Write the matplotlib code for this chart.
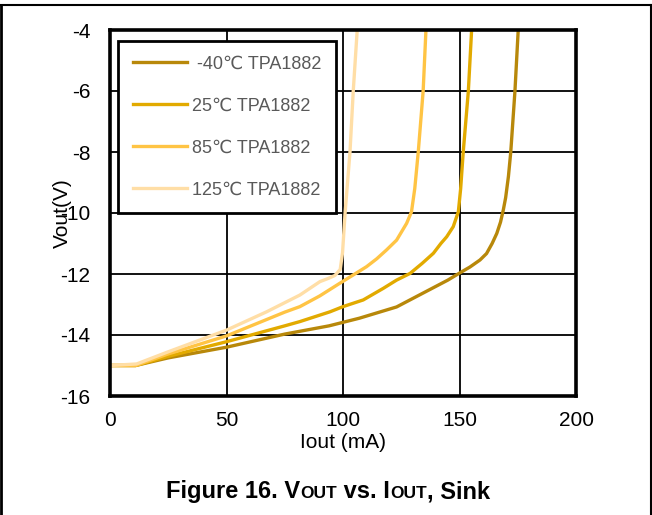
import matplotlib
matplotlib.use("Agg")
import matplotlib.pyplot as plt
from matplotlib.lines import Line2D

# Sink current (mA) vs output voltage (V) at four temperatures
i_m40 = [0, 11, 25, 50, 75, 94, 107, 123, 137, 145, 150, 154.5, 158.8, 161.6, 164, 166, 167.6,
         168.8, 169.8, 171, 172, 173.8, 175.2]
v_m40 = [-15, -15, -14.75, -14.4, -13.97, -13.7, -13.45, -13.08, -12.52, -12.2, -11.97, -11.77,
         -11.54, -11.33, -11.0, -10.67, -10.3, -9.9, -9.5, -8.8, -8.0, -6.0, -4.0]

i_25 = [0, 11, 25, 50, 75, 81.5, 94.4, 100, 108.7, 117.3, 123, 128.8, 134, 138.8, 142, 144.5,
        147.3, 149.5, 150.5, 151.6, 153.8, 155.2]
v_25 = [-15, -15, -14.7, -14.22, -13.7, -13.56, -13.24, -13.07, -12.85, -12.47, -12.2, -11.98,
        -11.65, -11.32, -11.0, -10.78, -10.45, -9.96, -9.2, -8.0, -6.0, -4.0]

i_85 = [0, 11, 25, 50, 75, 81.5, 90, 98.7, 104, 110.1, 114.5, 118.7, 123, 127.3, 129.4, 130.8,
        132.3, 134.4, 135.6]
v_85 = [-15, -15, -14.62, -14.03, -13.25, -13.07, -12.72, -12.3, -12.05, -11.76, -11.5, -11.21,
        -10.89, -10.34, -9.96, -9.2, -8.0, -6.0, -4.0]

i_125 = [0, 11.4, 25, 50, 67.2, 81.5, 90.1, 93.5, 96.5, 98.8, 99.8, 100.9, 103, 104.4, 106.1]
v_125 = [-15, -14.95, -14.55, -13.84, -13.24, -12.69, -12.25, -12.15, -12.05, -11.85, -11.3,
         -10.0, -8.0, -6.0, -4.0]

labels = [" -40\u2103 TPA1882", "25\u2103 TPA1882", "85\u2103 TPA1882", "125\u2103 TPA1882"]
colors = ["#B8880A", "#E2AA00", "#FFC444", "#FFDEA6"]

xticks = [0, 50, 100, 150, 200]
yticks = [-16, -14, -12, -10, -8, -6, -4]

plt.rcParams["font.family"] = ["Liberation Sans", "DejaVu Sans"]
plt.rcParams["axes.unicode_minus"] = False

fig = plt.figure(figsize=(6.52, 5.15), dpi=100)
ax = fig.add_axes([110 / 652, 1 - 396 / 515, 466 / 652, 366 / 515])

for xs, ys, lab, c in zip([i_m40, i_25, i_85, i_125], [v_m40, v_25, v_85, v_125], labels, colors):
    ax.plot(xs, ys, color=c, lw=2.4, label=lab, solid_joinstyle="round")

ax.set_xlim(0, 200)
ax.set_ylim(-16, -4)
ax.set_xticks(xticks)
ax.set_yticks(yticks)
ax.tick_params(length=0, labelsize=15, labelcolor="black")
ax.tick_params(axis="y", pad=14)
ax.tick_params(axis="x", pad=11)
ax.grid(True, color="black", lw=1.3)
ax.set_axisbelow(True)
for s in ax.spines.values():
    s.set_linewidth(2.6)
    s.set_color("black")

ax.set_xlabel("Iout (mA)", fontsize=15)
ax.xaxis.set_label_coords(0.5, -0.128)
ax.xaxis.label.set_va("center")
ax.set_ylabel("Vout(V)", fontsize=15)
ax.yaxis.set_label_coords(-0.103, 0.5)
ax.yaxis.label.set_va("center")

leg = ax.legend(loc="upper left", bbox_to_anchor=(0.017, 0.97), borderaxespad=0,
                fancybox=False, framealpha=1, edgecolor="black", fontsize=13,
                handlelength=3.0, labelspacing=1.38, borderpad=0.82, handletextpad=0.3)
leg.get_frame().set_linewidth(2)
for t in leg.get_texts():
    t.set_color("#595959")

# caption built from pieces so OUT can be set smaller
pieces = [("Figure 16. V", 17), ("OUT", 12.5), (" vs. I", 17), ("OUT", 12.5), (", Sink", 17)]
texts = [fig.text(0, 17 / 515, s, fontsize=fs, fontweight="bold", va="baseline", ha="left")
         for s, fs in pieces]
fig.canvas.draw()
r = fig.canvas.get_renderer()
widths = [t.get_window_extent(r).width for t in texts]
x = (652 - sum(widths)) / 2 + 2
for t, w in zip(texts, widths):
    t.set_x(x / 652)
    x += w

# outer box edges
fig.add_artist(Line2D([0, 1], [1 - 5 / 515] * 2, color="black", lw=1.5, transform=fig.transFigure))
fig.add_artist(Line2D([1 / 652] * 2, [0, 1 - 5 / 515], color="black", lw=2, transform=fig.transFigure))
fig.add_artist(Line2D([650.5 / 652] * 2, [0, 1 - 5 / 515], color="black", lw=1.5, transform=fig.transFigure))

fig.savefig("out.png", dpi=100)
